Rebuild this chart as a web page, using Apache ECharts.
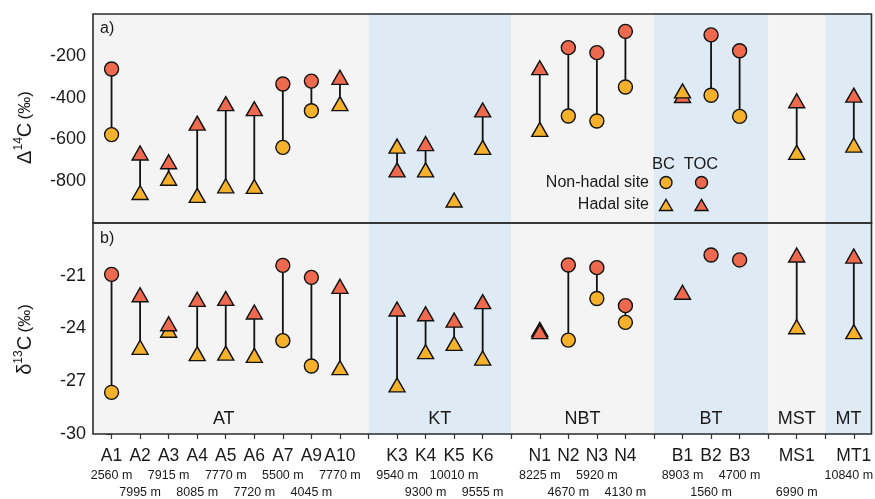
<!DOCTYPE html>
<html><head><meta charset="utf-8">
<script src="https://cdn.jsdelivr.net/npm/echarts@6/dist/echarts.min.js"></script>
<style>html,body{margin:0;padding:0;background:#fff}#c{width:875px;height:499px}</style>
</head><body><div id="c"></div>
<script>
// ---- data ----
const sites = ['A1','A2','A3','A4','A5','A6','A7','A9','A10','K3','K4','K5','K6','N1','N2','N3','N4','B1','B2','B3','MS1','MT1'];
const positions = [0,1,2,3,4,5,6,7,8,10,11,12,13,15,16,17,18,20,21,22,24,26];
const depths = ['2560 m','7995 m','7915 m','8085 m','7770 m','7720 m','5500 m','4045 m','7770 m','9540 m','9300 m','10010 m','9555 m','8225 m','4670 m','5920 m','4130 m','8903 m','1560 m','4700 m','6990 m','10840 m'];
const depthRow = [1,2,1,2,1,2,1,2,1,1,2,1,2,1,2,1,2,1,2,1,2,1];
const hadal = [0,1,1,1,1,1,0,0,1,1,1,1,1,1,0,0,0,1,0,0,1,1];
const d14C_BC  = [-577,-854,-786,-868,-822,-825,-638,-463,-429,-632,-746,-890,-638,-552,-488,-512,-349,-368,-389,-490,-662,-627];
const d14C_TOC = [-263,-665,-707,-522,-429,-453,-335,-321,-303,-746,-620,null,-459,-257,-161,-185,-83,-390,-100,-176,-415,-388];
const d13C_BC  = [-27.63,-25.07,-24.1,-25.43,-25.4,-25.53,-24.69,-26.13,-26.23,-27.21,-25.32,-24.85,-25.68,-24.05,-24.66,-22.29,-23.65,null,null,null,-23.9,-24.18];
const d13C_TOC = [-20.92,-22.08,-23.73,-22.34,-22.29,-23.06,-20.41,-21.09,-21.6,-22.89,-23.16,-23.52,-22.47,-24.18,-20.39,-20.54,-22.7,-21.94,-19.82,-20.1,-19.82,-19.88];
const groupNames = ['AT','KT','NBT','BT','MST','MT'];
const groupEdges = [-0.65, 9, 14, 19, 23, 25, 26.62];
const xTicks = [0,1,2,3,4,5,6,7,8,9,10,11,12,13,14,15,16,17,18,19,20,21,22,23,24,25,26];
const yTicksTop = [-200,-400,-600,-800];
const yTicksBottom = [-21,-24,-27,-30];

// ---- styles ----
const FONT = '"Liberation Sans", Arial, sans-serif';
const C_BC = '#f5b12c', C_TOC = '#ee6a4f';
const BAND = ['#f4f4f4', '#dfebf4'];
const TXT = '#1a1a1a';

const chart = echarts.init(document.getElementById('c'));

function pointData(vals){
  return positions.map((p,i)=> vals[i]==null ? {value:[p,'-']} : {
    value:[p, vals[i]],
    symbol: hadal[i] ? 'triangle' : 'circle',
    symbolSize: hadal[i] ? [16,14] : 14
  });
}
function connectorData(a,b){
  const out=[];
  positions.forEach((p,i)=>{ if(a[i]!=null && b[i]!=null){ out.push([p,a[i]],[p,b[i]],[p,'-']); } });
  return out;
}
function bands(withLabels){
  return groupNames.map((g,i)=>[
    { name:g, xAxis: groupEdges[i], itemStyle:{color: BAND[i%2]},
      label: withLabels ? {show:true, position:'insideBottom', distance:6, color:TXT, fontSize:18, fontFamily:FONT, offset: g==='AT' ? [-7,0] : [0,0]} : {show:false} },
    { xAxis: groupEdges[i+1] }
  ]);
}
function xAxisBase(gi){
  return { type:'value', gridIndex:gi, min:groupEdges[0], max:groupEdges[groupEdges.length-1],
    splitLine:{show:false}, axisLine:{show:false} };
}
const tickStyle = {show:true, length:5, inside:false, lineStyle:{color:'#333', width:1.2}};
const nameRich = {
  a:{fontSize:20, lineHeight:24, color:TXT, fontFamily:FONT},
  s:{fontSize:12, lineHeight:24, verticalAlign:'top', color:TXT, fontFamily:FONT},
  p:{fontSize:17, lineHeight:24, color:TXT, fontFamily:FONT}
};
const lastPos = positions[positions.length-1];
// empty guard labels at both ends so the min/max-label overlap rule hides nothing
const labelValues = [-0.5].concat(positions, [26.5]);

const option = {
  animation:false,
  backgroundColor:'#fff',
  textStyle:{fontFamily:FONT},
  grid:[
    {left:93, width:778.5, top:14, height:209, show:true, z:10, outerBoundsMode:'none', containLabel:false, backgroundColor:'transparent', borderColor:'#2b2b2b', borderWidth:1.6},
    {left:93, width:778.5, top:223, height:211, show:true, z:10, outerBoundsMode:'none', containLabel:false, backgroundColor:'transparent', borderColor:'#2b2b2b', borderWidth:1.6}
  ],
  xAxis:[
    Object.assign(xAxisBase(0), {show:false}),
    Object.assign(xAxisBase(1), {
      axisTick: Object.assign({customValues: xTicks}, tickStyle),
      axisLabel:{
        customValues: labelValues, margin:12, color:TXT, fontFamily:FONT,
        hideOverlap:false,
        formatter:(v)=>{
          const i = positions.indexOf(v);
          if(i<0) return '';
          const d = depths[i];
          const dk = v===lastPos ? 'e' : 'd';
          return depthRow[i]===1 ? `{n|${sites[i]}}\n{${dk}|${d}}\n{d| }` : `{n|${sites[i]}}\n{d| }\n{${dk}|${d}}`;
        },
        rich:{
          n:{fontSize:17.5, lineHeight:21, width:24, align:'center', overflow:'none', color:TXT, fontFamily:FONT},
          d:{fontSize:12.5, lineHeight:17, width:24, align:'center', overflow:'none', color:TXT, fontFamily:FONT},
          e:{fontSize:12.5, lineHeight:17, width:14, align:'center', overflow:'none', padding:[0,10,0,0], color:TXT, fontFamily:FONT}
        }
      }
    })
  ],
  yAxis:[
    { type:'value', gridIndex:0, min:-1000, max:0, splitLine:{show:false}, axisLine:{show:false},
      axisTick: Object.assign({customValues: yTicksTop}, tickStyle),
      axisLabel:{customValues: yTicksTop, fontSize:18, color:TXT, margin:7, fontFamily:FONT},
      name:'{a|Δ}{s|14}{a|C} {p|(‰)}', nameLocation:'middle', nameRotate:90, nameGap:56,
      nameTextStyle:{ padding:[0,18,0,0], rich:nameRich }
    },
    { type:'value', gridIndex:1, min:-30, max:-18, splitLine:{show:false}, axisLine:{show:false},
      axisTick: Object.assign({customValues: yTicksBottom}, tickStyle),
      axisLabel:{customValues: yTicksBottom, fontSize:18, color:TXT, margin:7, fontFamily:FONT},
      name:'{a|δ}{s|13}{a|C} {p|(‰)}', nameLocation:'middle', nameRotate:90, nameGap:56,
      nameTextStyle:{ padding:[0,22,0,0], rich:nameRich }
    }
  ],
  series:[
    { type:'line', xAxisIndex:0, yAxisIndex:0, data:[], z:0, silent:true,
      markArea:{silent:true, data: bands(false)} },
    { type:'line', xAxisIndex:1, yAxisIndex:1, data:[], z:0, silent:true,
      markArea:{silent:true, data: bands(true)} },
    { type:'line', xAxisIndex:0, yAxisIndex:0, data: connectorData(d14C_BC, d14C_TOC), connectNulls:false,
      symbol:'none', z:1, lineStyle:{color:'#111', width:1.8}, silent:true },
    { type:'line', xAxisIndex:1, yAxisIndex:1, data: connectorData(d13C_BC, d13C_TOC), connectNulls:false,
      symbol:'none', z:1, lineStyle:{color:'#111', width:1.8}, silent:true },
    { name:'TOC', type:'scatter', xAxisIndex:0, yAxisIndex:0, data: pointData(d14C_TOC), z:3,
      itemStyle:{color:C_TOC, borderColor:'#111', borderWidth:1.4, opacity:1} },
    { name:'BC', type:'scatter', xAxisIndex:0, yAxisIndex:0, data: pointData(d14C_BC), z:4,
      itemStyle:{color:C_BC, borderColor:'#111', borderWidth:1.4, opacity:1} },
    { name:'BC', type:'scatter', xAxisIndex:1, yAxisIndex:1, data: pointData(d13C_BC), z:3,
      itemStyle:{color:C_BC, borderColor:'#111', borderWidth:1.4, opacity:1} },
    { name:'TOC', type:'scatter', xAxisIndex:1, yAxisIndex:1, data: pointData(d13C_TOC), z:4,
      itemStyle:{color:C_TOC, borderColor:'#111', borderWidth:1.4, opacity:1} }
  ],
  graphic:[
    {type:'text', left:100, top:21, z:20, style:{text:'a)', fontSize:16, fill:TXT, fontFamily:FONT}},
    {type:'text', left:100, top:231, z:20, style:{text:'b)', fontSize:16, fill:TXT, fontFamily:FONT}},
    {type:'text', z:20, x:663.5, y:164, style:{text:'BC', fontSize:16.5, fill:TXT, fontFamily:FONT, align:'center', verticalAlign:'middle'}},
    {type:'text', z:20, x:701, y:164, style:{text:'TOC', fontSize:16.5, fill:TXT, fontFamily:FONT, align:'center', verticalAlign:'middle'}},
    {type:'text', z:20, x:649, y:182.5, style:{text:'Non-hadal site', fontSize:16, fill:TXT, fontFamily:FONT, align:'right', verticalAlign:'middle'}},
    {type:'text', z:20, x:649, y:205, style:{text:'Hadal site', fontSize:16, fill:TXT, fontFamily:FONT, align:'right', verticalAlign:'middle'}},
    {type:'circle', z:20, shape:{cx:666, cy:182.5, r:6}, style:{fill:C_BC, stroke:'#111', lineWidth:1.4}},
    {type:'circle', z:20, shape:{cx:701.5, cy:182.5, r:6}, style:{fill:C_TOC, stroke:'#111', lineWidth:1.4}},
    {type:'polygon', z:20, shape:{points:[[659.5,210.5],[672.5,210.5],[666,199.5]]}, style:{fill:C_BC, stroke:'#111', lineWidth:1.4}},
    {type:'polygon', z:20, shape:{points:[[695,210.5],[708,210.5],[701.5,199.5]]}, style:{fill:C_TOC, stroke:'#111', lineWidth:1.4}}
  ]
};
chart.setOption(option);
</script>
</body></html>
